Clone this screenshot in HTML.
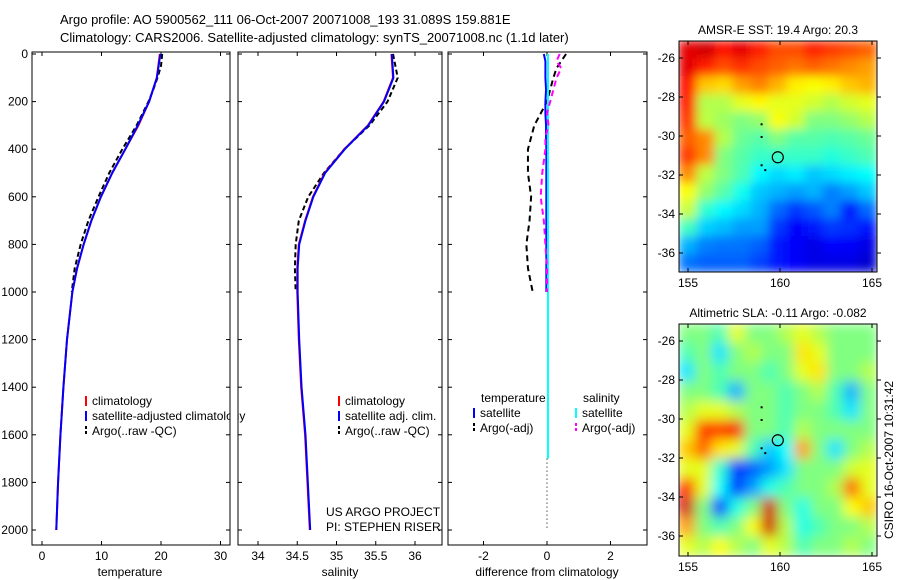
<!DOCTYPE html>
<html><head><meta charset="utf-8"><style>
body{margin:0;background:#fff;}
svg{display:block;font-family:"Liberation Sans",sans-serif;font-size:12px;}
</style></head><body>
<svg id="c" width="900" height="580" viewBox="0 0 900 580">
<text x="60" y="24" font-size="13">Argo profile: AO 5900562_111 06-Oct-2007 20071008_193 31.089S 159.881E</text>
<text x="60" y="42" font-size="13">Climatology: CARS2006. Satellite-adjusted climatology: synTS_20071008.nc (1.1d later)</text>
<defs><filter id="bl" x="0" y="0" width="1" height="1"><feGaussianBlur stdDeviation="5" edgeMode="duplicate"/></filter>
<filter id="bl2" x="0" y="0" width="1" height="1"><feGaussianBlur stdDeviation="6" edgeMode="duplicate"/></filter>
<clipPath id="cm1"><rect x="679" y="41" width="198" height="231"/></clipPath>
<clipPath id="cm2"><rect x="679" y="324" width="198" height="232"/></clipPath></defs>
</svg>
<script>
// ---------- data ----------
const depths   = [0,100,200,300,400,500,600,700,800,900,1000,1200,1400,1600,1800,2000];
const tempClim = [19.8,19.3,18.0,16.2,14.0,11.8,9.9,8.3,7.0,5.9,5.1,4.2,3.6,3.1,2.7,2.4];
const tempSat  = [19.9,19.3,18.0,16.1,14.0,11.8,9.9,8.3,7.0,5.9,5.1,4.2,3.6,3.1,2.7,2.4];
const argoDepths = [0,50,100,150,200,300,400,500,600,700,800,900,1000];
const tempArgo = [20.2,20.0,19.4,18.7,17.9,15.9,13.5,11.3,9.5,7.8,6.5,5.5,5.0];
const salClim  = [35.7,35.72,35.6,35.4,35.1,34.85,34.7,34.6,34.52,34.5,34.5,34.52,34.55,34.6,34.63,34.66];
const salArgo  = [35.72,35.78,35.65,35.42,35.1,34.84,34.64,34.52,34.48,34.47,34.48];
const salArgoDepths = [0,100,200,300,400,500,600,700,800,900,1000];
const diffDepths = [0,30,60,100,150,200,250,300,350,400,500,600,700,800,900,1000];
const dTempArgo = [0.6,0.45,0.3,0.2,0.1,0.0,-0.2,-0.4,-0.5,-0.6,-0.6,-0.5,-0.55,-0.65,-0.6,-0.45];
const dSalArgo  = [0.4,0.3,0.45,0.3,0.2,0.1,0.0,0.05,-0.05,-0.05,-0.15,-0.2,-0.1,-0.05,0.0,0.0];
const dTempSat  = [-0.1,-0.05,-0.05,-0.05,-0.03,-0.05,-0.05,-0.03,-0.03,-0.02,-0.02,-0.02,-0.02,-0.02,-0.02,-0.02];
const sstGrid = [
[0.9,0.92,0.86,0.9,0.85,0.8,0.8,0.85,0.82,0.8,0.78],
[0.9,0.85,0.8,0.83,0.8,0.78,0.76,0.78,0.76,0.74,0.72],
[0.86,0.68,0.66,0.72,0.75,0.7,0.64,0.62,0.64,0.68,0.7],
[0.85,0.55,0.55,0.6,0.63,0.6,0.6,0.58,0.55,0.58,0.6],
[0.82,0.56,0.53,0.5,0.52,0.62,0.58,0.5,0.5,0.52,0.55],
[0.78,0.74,0.55,0.48,0.46,0.5,0.46,0.46,0.45,0.46,0.48],
[0.82,0.74,0.5,0.46,0.43,0.43,0.43,0.43,0.41,0.43,0.45],
[0.74,0.56,0.5,0.45,0.37,0.34,0.36,0.32,0.34,0.36,0.38],
[0.62,0.52,0.46,0.39,0.32,0.3,0.28,0.3,0.25,0.28,0.32],
[0.57,0.42,0.37,0.34,0.3,0.23,0.18,0.21,0.25,0.15,0.23],
[0.44,0.33,0.31,0.28,0.28,0.18,0.12,0.15,0.18,0.17,0.15],
[0.3,0.25,0.24,0.24,0.22,0.15,0.12,0.1,0.13,0.12,0.1],
[0.24,0.22,0.22,0.22,0.19,0.15,0.12,0.1,0.1,0.1,0.08]];
const slaGrid = [
[0.5,0.5,0.45,0.6,0.5,0.5,0.55,0.6,0.55,0.5,0.5,0.5],
[0.45,0.5,0.35,0.5,0.55,0.5,0.5,0.65,0.6,0.5,0.5,0.5],
[0.35,0.5,0.45,0.5,0.5,0.45,0.5,0.6,0.65,0.5,0.5,0.55],
[0.5,0.5,0.45,0.3,0.5,0.5,0.45,0.5,0.55,0.45,0.3,0.5],
[0.55,0.6,0.6,0.55,0.5,0.5,0.45,0.5,0.5,0.45,0.35,0.5],
[0.6,0.82,0.82,0.88,0.5,0.5,0.45,0.55,0.5,0.5,0.5,0.5],
[0.68,0.78,0.65,0.6,0.45,0.32,0.38,0.72,0.5,0.35,0.5,0.55],
[0.6,0.6,0.42,0.18,0.22,0.28,0.35,0.5,0.5,0.5,0.58,0.6],
[0.85,0.6,0.38,0.18,0.28,0.4,0.45,0.5,0.5,0.55,0.78,0.6],
[0.92,0.5,0.18,0.4,0.5,0.92,0.5,0.4,0.5,0.5,0.62,0.68],
[0.72,0.5,0.45,0.5,0.62,0.92,0.55,0.4,0.45,0.5,0.5,0.55],
[0.6,0.55,0.62,0.55,0.5,0.6,0.55,0.45,0.5,0.5,0.55,0.5]];
const depthTicks = [0,200,400,600,800,1000,1200,1400,1600,1800,2000];
const tempTicks = [0,10,20,30];
const salTicks = [34,34.5,35,35.5,36];
const salTickLabels = ["34","34.5","35","35.5","36"];
const diffTicks = [-2,0,2];
const lonTicks = [155,160,165];
const latTicks1 = [-26,-28,-30,-32,-34,-36];
const latTicks2 = [-26,-28,-30,-32,-34,-36];
const floatPos = [159.88,-31.09];

// ---------- helpers ----------
const svg = document.getElementById('c');
const NS = 'http://www.w3.org/2000/svg';
function mk(tag, at, parent){const e=document.createElementNS(NS,tag);for(const k in at)e.setAttribute(k,at[k]);(parent||svg).appendChild(e);return e;}
const Y0=54, YS=(530-54)/2000;
const yD = d => Y0 + d*YS;
function jet(v){v=Math.max(0,Math.min(1,v));
 const r=Math.max(0,Math.min(1,Math.min(4*v-1.5,-4*v+4.5)));
 const g=Math.max(0,Math.min(1,Math.min(4*v-0.5,-4*v+3.5)));
 const b=Math.max(0,Math.min(1,Math.min(4*v+0.5,-4*v+2.5)));
 return `rgb(${Math.round(r*255)},${Math.round(g*255)},${Math.round(b*255)})`;}
function frame(x0,y0,x1,y1,name){
 const r=mk('rect',{x:x0,y:y0,width:x1-x0,height:y1-y0,fill:'none',stroke:'#000','stroke-width':1});
 
 
}
function depthAxis(x0,x1,labels){
 depthTicks.forEach(d=>{const y=yD(d);
  mk('line',{x1:x0,y1:y,x2:x0+4,y2:y,stroke:'#000'});
  mk('line',{x1:x1-4,y1:y,x2:x1,y2:y,stroke:'#000'});
  if(labels){const t=mk('text',{x:x0-4,y:y+4,'text-anchor':'end'});t.textContent=d;
   
   }
 });
}
function xAxis(ticks,labels,fx,x0,x1,yTop,yBot,title,titleX){
 ticks.forEach((v,i)=>{const x=fx(v);
  mk('line',{x1:x,y1:yBot,x2:x,y2:yBot-4,stroke:'#000'});
  mk('line',{x1:x,y1:yTop,x2:x,y2:yTop+4,stroke:'#000'});
  const t=mk('text',{x:x,y:yBot+15,'text-anchor':'middle'});t.textContent=labels[i];
  
  
 });
 if(title){const t=mk('text',{x:titleX,y:yBot+31,'text-anchor':'middle'});t.textContent=title;
  
  }
}
function line(xs,ys,color,w,dash,name){
 const p=mk('polyline',{points:xs.map((x,i)=>x+','+ys[i]).join(' '),fill:'none',stroke:color,'stroke-width':w});
 if(dash)p.setAttribute('stroke-dasharray',dash);
 
 
 return p;
}
function legendItem(x,y,color,dash,label,name){
 const l=mk('line',{x1:x,y1:y-9,x2:x,y2:y+1,stroke:color,'stroke-width':2});
 if(dash)l.setAttribute('stroke-dasharray',dash);
 const t=mk('text',{x:x+6,y:y});t.textContent=label;
 
 
}

// ---------- panel 1: temperature ----------
const xT=v=>42+v*5.95;
frame(32,52,230,545,'temperature-panel');
depthAxis(32,230,true);
xAxis(tempTicks,tempTicks.map(String),xT,32,230,52,545,'temperature',130);
line(argoDepths.map((d,i)=>xT(tempArgo[i])),argoDepths.map(yD),'#000',2,'5,3','temp-argo-line');
line(depths.map((d,i)=>xT(tempClim[i])),depths.map(yD),'#f00',2,null,'temp-climatology-line');
line(depths.map((d,i)=>xT(tempSat[i])),depths.map(yD),'#00f',2,null,'temp-satellite-line');
legendItem(86,405,'#f00',null,'climatology','legend-climatology');
legendItem(86,420,'#00f',null,'satellite-adjusted climatology','legend-satellite');
legendItem(86,435,'#000','3,2','Argo(..raw -QC)','legend-argo');
mk('rect',{x:230.5,y:380,width:7,height:60,fill:'#fff'});

// ---------- panel 2: salinity ----------
const xS=v=>258+(v-34)*78.5;
frame(238,52,442,545,'salinity-panel');
depthAxis(238,442,false);
xAxis(salTicks,salTickLabels,xS,238,442,52,545,'salinity',340);
line(salArgoDepths.map((d,i)=>xS(salArgo[i])),salArgoDepths.map(yD),'#000',2,'5,3','sal-argo-line');
line(depths.map((d,i)=>xS(salClim[i])),depths.map(yD),'#f00',2,null,'sal-climatology-line');
line(depths.map((d,i)=>xS(salClim[i]+0.005)),depths.map(yD),'#00f',2,null,'sal-satellite-line');
legendItem(339,405,'#f00',null,'climatology','legend-sal-climatology');
legendItem(339,420,'#00f',null,'satellite adj. clim.','legend-sal-satellite');
legendItem(339,435,'#000','3,2','Argo(..raw -QC)','legend-sal-argo');
let t=mk('text',{x:326,y:516});t.textContent='US ARGO PROJECT';


t=mk('text',{x:326,y:531});t.textContent='PI: STEPHEN RISER';



// ---------- panel 3: difference ----------
const xDf=v=>547+v*31.75;
frame(448,52,647,545,'difference-panel');
depthAxis(448,647,false);
xAxis(diffTicks,diffTicks.map(String),xDf,448,647,52,545,'difference from climatology',547);
line(diffDepths.map((d,i)=>xDf(dTempArgo[i])),diffDepths.map(yD),'#000',2,'6,4','diff-temp-argo-line');
line(diffDepths.map((d,i)=>xDf(dTempSat[i])),diffDepths.map(yD),'#00f',2,null,'diff-temp-satellite-line');
line([xDf(0.03),xDf(0.03)],[yD(0),yD(1700)],'#0ff',2,null,'diff-sal-satellite-line');
line(diffDepths.map((d,i)=>xDf(dSalArgo[i])),diffDepths.map(yD),'#f0f',2,'6,4','diff-sal-argo-line');
line([xDf(0),xDf(0)],[yD(1700),yD(2000)],'#000',1,'1,3','zero-line');
t=mk('text',{x:481,y:402});t.textContent='temperature';


t=mk('text',{x:583,y:402});t.textContent='salinity';


legendItem(474,417,'#00f',null,'satellite','legend-diff-temp-sat');
legendItem(474,432,'#000','3,2','Argo(-adj)','legend-diff-temp-argo');
legendItem(576,417,'#0ff',null,'satellite','legend-diff-sal-sat');
legendItem(576,432,'#f0f','3,2','Argo(-adj)','legend-diff-sal-argo');

// ---------- maps ----------
function map(grid,x0,y0,x1,y1,lat26y,lat36y,clip,title,name,latTicks,filt){
 const g=mk('g',{'clip-path':'url(#'+clip+')'});
 
 
 const inner=mk('g',{filter:'url(#'+filt+')'},g);
 const rows=grid.length, cols=grid[0].length;
 const cw=(x1-x0)/cols, ch=(y1-y0)/rows;
 grid.forEach((row,r)=>row.forEach((v,c)=>{
  const cell=mk('rect',{x:x0+c*cw-0.5,y:y0+r*ch-0.5,width:cw+1,height:ch+1,fill:jet(v)},inner);
  
  
 }));
 const lon=v=>688+(v-155)*18.4;
 const lat=v=>lat26y+(v+26)*(lat36y-lat26y)/(-10);
 mk('circle',{cx:lon(floatPos[0]),cy:lat(floatPos[1]),r:5.5,fill:'none',stroke:'#000','stroke-width':1.2});
 [[159,-29.4],[159,-30.05],[159,-31.5],[159.2,-31.75]].forEach(p=>mk('rect',{x:lon(p[0])-1,y:lat(p[1])-1,width:2,height:2,fill:'#000'}));
 frame(x0,y0,x1,y1,name+'-frame');
 lonTicks.forEach(v=>{const x=lon(v);
  mk('line',{x1:x,y1:y1,x2:x,y2:y1-4,stroke:'#000'});mk('line',{x1:x,y1:y0,x2:x,y2:y0+4,stroke:'#000'});
  const tt=mk('text',{x:x,y:y1+15,'text-anchor':'middle'});tt.textContent=v;
  
  });
 latTicks.forEach(v=>{const y=lat(v);
  mk('line',{x1:x0,y1:y,x2:x0+4,y2:y,stroke:'#000'});mk('line',{x1:x1,y1:y,x2:x1+4,y2:y,stroke:'#000'});
  const tt=mk('text',{x:x0-4,y:y+4,'text-anchor':'end'});tt.textContent=v;
  
  });
 const tt=mk('text',{x:(x0+x1)/2,y:y0-7,'text-anchor':'middle'});tt.textContent=title;
 
 
}
map(sstGrid,679,41,877,272,58,253,'cm1','AMSR-E SST: 19.4 Argo: 20.3','sst-map',latTicks1,'bl');
map(slaGrid,679,324,877,556,341,536,'cm2','Altimetric SLA: -0.11  Argo: -0.082','sla-map',latTicks2,'bl2');
t=mk('text',{x:0,y:0,transform:'translate(893,460) rotate(-90)','text-anchor':'middle'});t.textContent='CSIRO 16-Oct-2007 10:31:42';


</script>
</body></html>
